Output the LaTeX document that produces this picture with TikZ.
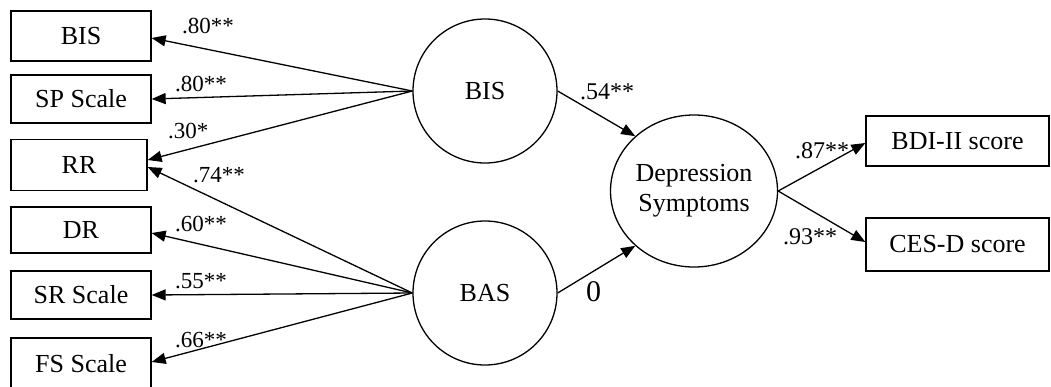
\documentclass[tikz,border=0pt]{standalone}
\usepackage{fontspec}
\setmainfont{Liberation Serif}
\usetikzlibrary{arrows.meta,shapes.geometric}
\tikzset{
  obsbox/.style={draw, line width=1.3pt, rectangle, inner sep=0pt, minimum width=140pt, minimum height=50pt, font=\fontsize{26}{30}\selectfont},
  latent/.style={draw, line width=1.3pt, circle, inner sep=0pt, minimum size=144pt, font=\fontsize{26}{30}\selectfont},
  conn/.style={line width=1.3pt, -{Triangle[length=14pt,width=11pt]}},
  coef/.style={anchor=base west, inner sep=0pt, font=\fontsize{23}{26}\selectfont},
}
\begin{document}
\begin{tikzpicture}[x=1pt,y=-1pt]
\clip (0,0) rectangle (1051,386);
\useasboundingbox (0,0) rectangle (1051,386);
% observed indicators (left)
\node[obsbox] (bBIS) at (81,36) {BIS};
\node[obsbox, minimum height=48pt] (bSP) at (81,99) {SP Scale};
\node[obsbox, minimum width=136pt, minimum height=51pt] (bRR) at (79,165) {RR};
\node[obsbox, minimum height=46pt] (bDR) at (81,230) {DR};
\node[obsbox, minimum height=48pt] (bSR) at (81,295) {SR Scale};
\node[obsbox, minimum height=52pt] (bFS) at (81,364) {FS Scale};
% latent variables
\node[latent] (cBIS) at (485,91) {BIS};
\node[latent] (cBAS) at (485,293) {BAS};
\node[draw, line width=1.3pt, ellipse, inner sep=0pt, minimum width=167pt, minimum height=152pt, align=center, font=\fontsize{26}{30}\selectfont] (cDep) at (694,191) {Depression\\Symptoms};
% right indicators
\node[obsbox, minimum width=183pt] (bBDI) at (957.5,141) {BDI-II score};
\node[obsbox, minimum width=183pt, minimum height=53pt] (bCES) at (957.5,244.5) {CES-D score};
% BIS loadings
\draw[conn] (cBIS.west) -- ([yshift=-2pt]bBIS.east);
\draw[conn] (cBIS.west) -- (bSP.east);
\draw[conn] (cBIS.west) -- ([yshift=5pt]bRR.east);
% BAS loadings
\draw[conn] (cBAS.west) -- ([yshift=-2pt]bRR.east);
\draw[conn] (cBAS.west) -- ([yshift=-3pt]bDR.east);
\draw[conn] (cBAS.west) -- (bSR.east);
\draw[conn] (cBAS.west) -- ([yshift=2pt]bFS.east);
% structural paths
\draw[conn] (cBIS.east) -- (cDep.137);
\draw[conn] (cBAS.east) -- (cDep.223);
\draw[conn] (cDep.east) -- ([yshift=-2pt]bBDI.west);
\draw[conn] (cDep.east) -- ([yshift=2.5pt]bCES.west);
% coefficients
\node[coef] (lBIS) at (182,33) {.80**};
\node[coef] (lSP) at (175,91) {.80**};
\node[coef] (lRR1) at (168,138) {.30*};
\node[coef] (lRR2) at (193,182) {.74**};
\node[coef] (lDR) at (175,231) {.60**};
\node[coef] (lSR) at (175,288) {.55**};
\node[coef] (lFS) at (175,347) {.66**};
\node[coef, font=\fontsize{24}{27}\selectfont] (l54) at (580,99) {.54**};
\node[coef, font=\fontsize{30}{34}\selectfont] (l0) at (586,301) {0};
\node[coef, font=\fontsize{24}{27}\selectfont] (l87) at (795,158) {.87**};
\node[coef, font=\fontsize{24}{27}\selectfont] (l93) at (783,244) {.93**};
\end{tikzpicture}
\end{document}
